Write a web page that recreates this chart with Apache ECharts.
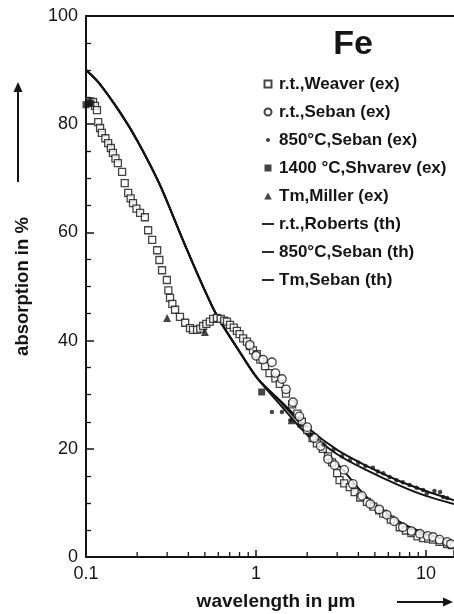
<!DOCTYPE html>
<html>
<head>
<meta charset="utf-8">
<script src="https://cdn.jsdelivr.net/npm/echarts@6/dist/echarts.min.js"></script>
<style>
  html, body { margin: 0; padding: 0; background: #fff; }
  #main { width: 454px; height: 614px; }
</style>
</head>
<body>
<div id="main"></div>
<script>
// wavelength in um, absorption in %
var weaverRT = [[0.105,84.2],[0.11,84.1],[0.113,83.4],[0.116,82.6],[0.118,80.4],[0.121,79.3],[0.124,78.4],[0.13,77.4],[0.135,76.5],[0.14,75.6],[0.144,74.7],[0.149,73.7],[0.154,72.8],[0.163,71.2],[0.169,69.1],[0.177,67.3],[0.183,66.3],[0.189,65.4],[0.198,64.4],[0.208,63.6],[0.222,62.8],[0.232,60.4],[0.245,58.6],[0.262,56.7],[0.27,54.9],[0.28,53.0],[0.299,51.2],[0.305,49.3],[0.312,47.9],[0.322,46.8],[0.334,45.7],[0.357,44.4],[0.383,43.3],[0.409,42.3],[0.426,42.0],[0.45,42.0],[0.47,42.2],[0.488,42.7],[0.51,43.1],[0.535,43.5],[0.56,44.0],[0.589,44.2],[0.62,44.0],[0.65,43.7],[0.675,43.5],[0.703,42.9],[0.74,42.4],[0.772,41.8],[0.8,41.2],[0.84,40.4],[0.884,39.8],[0.92,39.0],[0.96,38.2],[1.01,37.5],[1.06,36.5],[1.13,35.3],[1.2,34.0],[1.3,33.0],[1.38,32.0],[1.5,30.2],[1.63,28.2],[1.75,26.5],[1.86,25.0],[2.0,23.5],[2.15,22.0],[2.28,21.0],[2.47,20.0],[2.65,18.6],[2.8,17.5],[3.0,15.5],[3.1,14.2],[3.3,13.6],[3.56,12.9],[3.8,12.0],[4.1,11.0],[4.49,10.2],[4.9,9.3],[5.3,8.6],[5.6,8.0],[6.2,6.9],[7.0,5.5],[7.6,4.9],[8.2,4.4],[8.9,3.8],[9.6,3.5],[10.3,3.4],[11,3.2],[12,2.8],[13.3,2.4],[14.2,2.2]];
var sebanRT = [[0.92,39.2],[1.0,37.2],[1.1,36.5],[1.24,36.0],[1.3,34.0],[1.42,32.9],[1.5,31.0],[1.65,28.6],[1.8,26.0],[2.0,24.0],[2.2,22.0],[2.4,20.5],[2.65,18.1],[2.9,17.0],[3.3,16.1],[3.71,13.5],[4.2,11.3],[4.7,9.8],[5.3,8.8],[5.87,7.8],[6.5,6.6],[7.3,5.5],[8.2,4.8],[9.2,4.3],[10.2,3.9],[11,3.7],[12,3.2],[13.3,2.8],[14,2.4]];
var seban850 = [[1.24,26.8],[1.42,26.8],[1.59,25.3],[1.8,24.2],[2.1,22.6],[2.5,20.8],[2.85,19.8],[3.2,18.6],[3.56,17.9],[4.0,17.4],[4.4,16.8],[4.87,16.5],[5.2,15.8],[5.6,15.5],[6.1,14.8],[6.7,14.2],[7.3,13.8],[8.0,13.3],[8.8,12.8],[9.6,12.4],[10.1,11.8],[11.2,12.2],[12.1,12.0],[12.6,11.1],[13.3,10.9]];
var shvarev1400 = [[0.1,83.6],[0.104,84.0],[0.107,83.8],[1.08,30.5]];
var millerTm = [[0.3,44.2],[0.5,41.6],[1.62,25.3]];

// theory curves share the short-wavelength part
var thCommon = [[0.1,90],[0.12,87.5],[0.16,82],[0.2,77],[0.27,69],[0.39,57],[0.58,45],[0.78,38.5],[1.02,33]];
var thRoberts = [[1.4,28],[1.75,24.5],[2.2,21.3],[3.1,16.8],[4.5,11],[7,6.5],[10,4.3],[14.6,2.7]];
var th850 = [[1.4,28.8],[2,24],[3,19.8],[4.5,16.8],[7,14],[10,12.2],[14.6,10.5]];
var thTm = [[1.4,28.6],[2,23.4],[3,19],[4.5,16],[7,13.2],[10,11.3],[14.6,9.8]];

var xMinorTicks = [0.2,0.3,0.4,0.5,0.6,0.7,0.8,0.9,2,3,4,5,6,7,8,9];
var legendNames = ['r.t.,Weaver (ex)','r.t.,Seban (ex)','850°C,Seban (ex)','1400 °C,Shvarev (ex)','Tm,Miller (ex)','r.t.,Roberts (th)','850°C,Seban (th)','Tm,Seban (th)'];

var ink = '#151515';
var font = 'Liberation Sans, Arial, Helvetica, sans-serif';

// legend icons (path icons keep their aspect)
var icSquare = 'path://M0,0H6V6H0Z';
var icCircle = 'path://M3,0A3,3,0,1,1,3,6A3,3,0,1,1,3,0Z';
var icDot = 'path://M0,0M6,6M3,1.2A1.8,1.8,0,1,1,3,4.8A1.8,1.8,0,1,1,3,1.2Z';
var icTri = 'path://M3,0L6,5.5H0Z';
var icLine = 'path://M0,0H12V1.8H0Z';
var legendIcons = [icSquare, icCircle, icDot, icSquare, icTri, icLine, icLine, icLine];

function lineSeries(name, tail) {
  return {
    name: name,
    type: 'line',
    data: thCommon.concat(tail),
    smooth: 0.3,
    symbol: 'none',
    showSymbol: false,
    lineStyle: { color: ink, width: 2 },
    itemStyle: { color: ink },
    z: 3
  };
}

var chart = echarts.init(document.getElementById('main'), null, { renderer: 'canvas' });

var options = {
  backgroundColor: '#fff',
  animation: false,
  textStyle: { fontFamily: font },
  grid: { left: 86, right: 0, top: 16, bottom: 57, outerBoundsMode: 'none' },
  legend: {
    data: legendNames.map(function (n, i) { return { name: n, icon: legendIcons[i] }; }),
    orient: 'vertical',
    left: 257,
    top: 65,
    itemWidth: 12,
    itemHeight: 7,
    itemGap: 0,
    selectedMode: false,
    textStyle: { fontFamily: font, fontSize: 17, fontWeight: 'bold', color: ink, lineHeight: 28 }
  },
  xAxis: [{
    type: 'log',
    logBase: 10,
    min: 0.1,
    max: 14.6,
    axisLine: { lineStyle: { color: ink, width: 2 } },
    axisTick: { inside: true, length: 7, lineStyle: { color: ink, width: 1.5 } },
    splitLine: { show: false },
    axisLabel: {
      color: ink, fontSize: 18, margin: 8, fontFamily: font,
      formatter: function (v) {
        var l = Math.log10(v);
        if (Math.abs(l - Math.round(l)) > 1e-6) return '';
        return String(+v.toPrecision(3));
      }
    }
  }, {
    type: 'log',
    logBase: 10,
    min: 0.1,
    max: 14.6,
    position: 'top',
    axisLine: { lineStyle: { color: ink, width: 2 } },
    axisTick: { show: false },
    axisLabel: { show: false },
    splitLine: { show: false }
  }],
  yAxis: {
    type: 'value',
    min: 0,
    max: 100,
    interval: 20,
    name: 'absorption in %',
    nameLocation: 'middle',
    nameGap: 54,
    nameRotate: 90,
    nameTextStyle: { fontFamily: font, fontSize: 18.5, fontWeight: 'bold', color: ink },
    axisLine: { show: true, lineStyle: { color: ink, width: 2 } },
    axisTick: { inside: true, length: 8, lineStyle: { color: ink, width: 1.5 } },
    minorTick: { show: true, splitNumber: 4, length: 5, lineStyle: { color: ink, width: 1.3 } },
    splitLine: { show: false },
    axisLabel: { color: ink, fontSize: 18, margin: 8, fontFamily: font }
  },
  graphic: [
    { type: 'text', x: 353, y: 45, style: { text: 'Fe', fontFamily: font, fontSize: 34, fontWeight: 'bold', fill: ink, align: 'center', verticalAlign: 'middle' } },
    { type: 'text', x: 276, y: 602, style: { text: 'wavelength in µm', fontFamily: font, fontSize: 19, fontWeight: 'bold', fill: ink, align: 'center', verticalAlign: 'middle' } },
    { type: 'line', shape: { x1: 397, y1: 602, x2: 446, y2: 602 }, style: { stroke: ink, lineWidth: 2 } },
    { type: 'polygon', shape: { points: [[453, 602], [443, 597.5], [443, 606.5]] }, style: { fill: ink } },
    { type: 'line', shape: { x1: 18, y1: 182, x2: 18, y2: 90 }, style: { stroke: ink, lineWidth: 2 } },
    { type: 'polygon', shape: { points: [[18, 82], [13.5, 92], [22.5, 92]] }, style: { fill: ink } }
  ],
  series: [
    {
      name: 'r.t.,Weaver (ex)', type: 'scatter', data: weaverRT,
      symbol: 'rect', symbolSize: 7,
      itemStyle: { color: '#fff', borderColor: ink, borderWidth: 1.3 }, z: 4
    },
    {
      name: 'r.t.,Seban (ex)', type: 'scatter', data: sebanRT,
      symbol: 'circle', symbolSize: 8.5,
      itemStyle: { color: '#fff', borderColor: ink, borderWidth: 1.3 }, z: 4
    },
    {
      name: '850°C,Seban (ex)', type: 'scatter', data: seban850,
      symbol: 'circle', symbolSize: 4.5,
      itemStyle: { color: ink }, z: 5
    },
    {
      name: '1400 °C,Shvarev (ex)', type: 'scatter', data: shvarev1400,
      symbol: 'rect', symbolSize: 7,
      itemStyle: { color: ink }, z: 5
    },
    {
      name: 'Tm,Miller (ex)', type: 'scatter', data: millerTm,
      symbol: 'triangle', symbolSize: 8,
      itemStyle: { color: ink }, z: 5
    },
    lineSeries('r.t.,Roberts (th)', thRoberts),
    lineSeries('850°C,Seban (th)', th850),
    lineSeries('Tm,Seban (th)', thTm),
    {
      name: 'minorTicks',
      type: 'custom',
      silent: true,
      clip: false,
      data: xMinorTicks.map(function (v) { return [v, 0]; }),
      renderItem: function (params, api) {
        var p = api.coord([api.value(0), 0]);
        return {
          type: 'line',
          shape: { x1: p[0], y1: p[1], x2: p[0], y2: p[1] - 5 },
          style: { stroke: ink, lineWidth: 1.3 }
        };
      },
      z: 6
    }
  ]
};

chart.setOption(options);
</script>
</body>
</html>
